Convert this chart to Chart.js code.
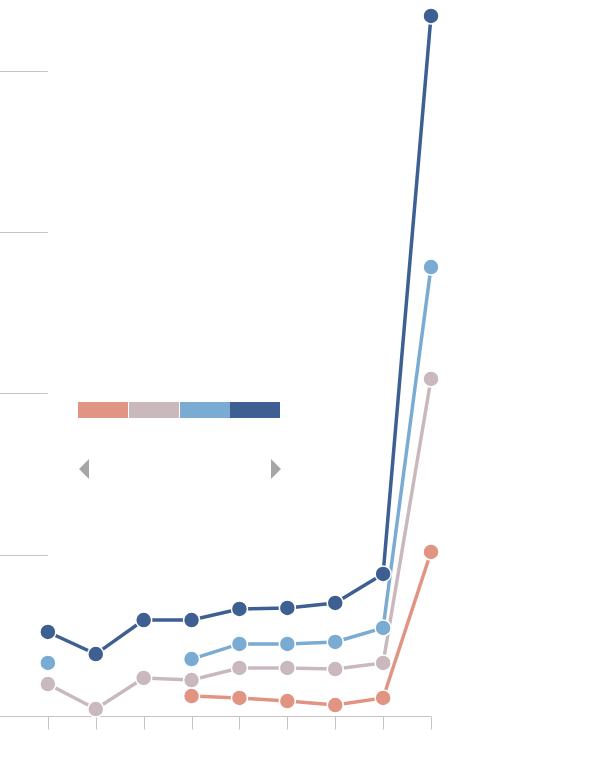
<!DOCTYPE html>
<html>
<head>
<meta charset="utf-8">
<script src="https://cdn.jsdelivr.net/npm/chart.js@4"></script>
<style>
    html, body { margin: 0; padding: 0; background: #fff; }
    #wrap { position: relative; width: 600px; height: 780px; }
    #chart { position: absolute; left: 0; top: 0; }
    .leg { position: absolute; top: 402px; height: 16px; width: 50px; }
    .seta { position: absolute; top: 459px; width: 0; height: 0; border-top: 10px solid transparent; border-bottom: 10px solid transparent; }
</style>
</head>
<body>
<div id="wrap">
    <canvas id="chart" width="600" height="780"></canvas>
    <div class="leg" style="left:78px;background:#e29483"></div>
    <div class="leg" style="left:129px;background:#c9b9bd"></div>
    <div class="leg" style="left:180px;background:#7aabd3"></div>
    <div class="leg" style="left:230px;background:#3d5f91"></div>
    <div class="seta" style="left:79px;border-right:10px solid #a6a6a6"></div>
    <div class="seta" style="left:271px;border-left:10px solid #a6a6a6"></div>
</div>
<script>
// posicoes no eixo x (indice de cada periodo)
const periodos = [0, 1, 2, 3, 4, 5, 6, 7, 8]
const gradeY = [10, 20, 30, 40]

const serieAzulEscuro = [5.21, 3.84, 5.95, 5.95, 6.64, 6.70, 7.01, 8.81, 43.41]
const serieAzulClaro = [3.29, null, null, 3.53, 4.47, 4.47, 4.59, 5.46, 27.84]
const serieRosa = [1.98, 0.43, 2.36, 2.23, 2.98, 2.98, 2.91, 3.29, 20.90]
const serieSalmao = [null, null, null, 1.24, 1.12, 0.93, 0.68, 1.12, 10.17]

const cores = ['#3d5f91', '#7aabd3', '#c9b9bd', '#e29483']

function montarPontos(valores) {
    let pontos = []
    for(let i=0;i<periodos.length;i++) {
        pontos.push({ x: periodos[i], y: valores[i] })
    }
    return pontos
}

function montarSerie(valores, cor) {
    return {
        data: montarPontos(valores),
        borderColor: cor,
        backgroundColor: cor,
        borderWidth: 3.5,
        pointRadius: 8,
        pointHoverRadius: 8,
        pointBorderColor: '#ffffff',
        pointBorderWidth: 1.5,
        pointBackgroundColor: cor,
        spanGaps: false,
        tension: 0,
        clip: false
    }
}

// grade curta a esquerda, linha base e marcas do eixo x
const eixosManuais = {
    id: 'eixosManuais',
    beforeDatasetsDraw(chart) {
        const ctx = chart.ctx
        const sx = chart.scales.x
        const sy = chart.scales.y
        ctx.save()
        ctx.lineWidth = 1
        ctx.strokeStyle = '#c4c4c4'
        for(let i=0;i<gradeY.length;i++) {
            let py = Math.round(sy.getPixelForValue(gradeY[i])) + 0.5
            ctx.beginPath()
            ctx.moveTo(0, py)
            ctx.lineTo(sx.getPixelForValue(periodos[0]), py)
            ctx.stroke()
        }
        let base = Math.round(sy.getPixelForValue(0)) + 0.5
        ctx.beginPath()
        ctx.moveTo(0, base)
        ctx.lineTo(sx.getPixelForValue(periodos[periodos.length-1]), base)
        ctx.stroke()
        for(let i=0;i<periodos.length;i++) {
            let px = Math.round(sx.getPixelForValue(periodos[i])) + 0.5
            ctx.beginPath()
            ctx.moveTo(px, base)
            ctx.lineTo(px, base + 13)
            ctx.stroke()
        }
        ctx.restore()
    }
}

const ctx = document.getElementById('chart').getContext('2d')
const grafico = new Chart(ctx, {
    type: 'line',
    data: {
        datasets: [
            montarSerie(serieAzulEscuro, cores[0]),
            montarSerie(serieAzulClaro, cores[1]),
            montarSerie(serieRosa, cores[2]),
            montarSerie(serieSalmao, cores[3])
        ]
    },
    options: {
        responsive: false,
        animation: false,
        layout: {
            autoPadding: false,
            padding: { left: 0, top: 0, right: 169, bottom: 64 }
        },
        scales: {
            x: { type: 'linear', min: -1, max: 8, display: false },
            y: { min: 0, max: 44.4, display: false }
        },
        plugins: {
            legend: { display: false },
            tooltip: { enabled: false }
        }
    },
    plugins: [eixosManuais]
})
</script>
</body>
</html>
